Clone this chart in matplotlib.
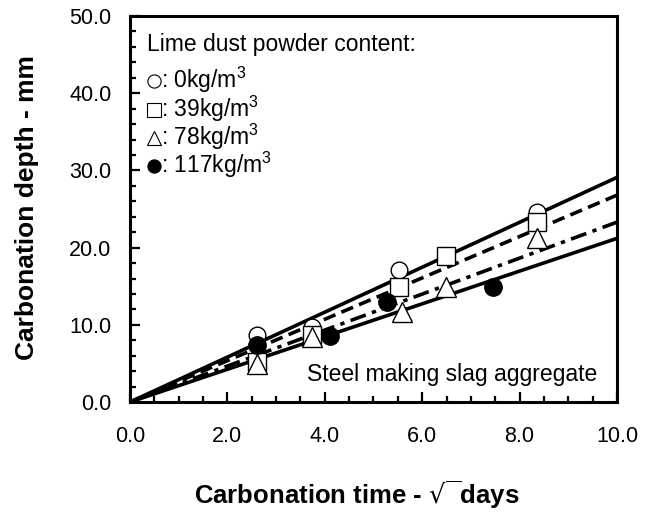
import matplotlib
matplotlib.use("Agg")
import matplotlib.pyplot as plt
from matplotlib.ticker import MultipleLocator, FormatStrFormatter
from matplotlib.transforms import offset_copy

plt.rcParams['font.family'] = ['Liberation Sans', 'DejaVu Sans']
plt.rcParams['mathtext.fontset'] = 'custom'
plt.rcParams['mathtext.rm'] = 'Liberation Sans'
plt.rcParams['mathtext.it'] = 'Liberation Sans:italic'
plt.rcParams['mathtext.bf'] = 'Liberation Sans:bold'

# data
x_c0 = [2.61, 3.74, 5.52, 8.36]
y_c0 = [8.7, 9.7, 17.1, 24.6]
x_c39 = [2.61, 3.74, 5.52, 6.49, 8.36]
y_c39 = [5.2, 8.7, 14.9, 18.9, 23.3]
x_c78 = [2.61, 3.74, 5.58, 6.49, 8.36]
y_c78 = [4.9, 8.4, 11.7, 14.9, 21.2]
x_c117 = [2.61, 4.11, 5.27, 7.45]
y_c117 = [7.4, 8.5, 13.0, 14.9]
fit_x = [0.0, 10.0]
slopes = [2.91, 2.68, 2.33, 2.12]
legend_labels = [": 0kg/m$^3$", ": 39kg/m$^3$", ": 78kg/m$^3$", ": 117kg/m$^3$"]
legend_markers = ['o', 's', '^', 'o']
legend_fills = ['white', 'white', 'white', 'black']

fig = plt.figure(figsize=(6.54, 5.12), dpi=100)
ax = fig.add_axes([0.1988, 0.2148, 0.7446, 0.7539])

styles = [dict(ls='-'), dict(ls=(0, (3.5, 1.8))), dict(ls=(0, (4.5, 1.8, 1.2, 1.8))), dict(ls='-')]
for s, st in zip(slopes, styles):
    ax.plot(fit_x, [s * v for v in fit_x], color='black', lw=2.6, zorder=2, **st)

ax.plot(x_c0, y_c0, 'o', ms=12, mfc='white', mec='black', mew=1.0, zorder=3)
ax.plot(x_c39, y_c39, 's', ms=13.5, mfc='white', mec='black', mew=1.0, zorder=4)
ax.plot(x_c78, y_c78, '^', ms=14, mfc='white', mec='black', mew=1.0, zorder=5)
ax.plot(x_c117, y_c117, 'o', ms=12.5, mfc='black', mec='black', mew=1.0, zorder=6)

ax.set_xlim(0, 10)
ax.set_ylim(0, 50)
ax.xaxis.set_major_locator(MultipleLocator(2))
ax.xaxis.set_minor_locator(MultipleLocator(0.5))
ax.yaxis.set_major_locator(MultipleLocator(10))
ax.yaxis.set_minor_locator(MultipleLocator(2))
ax.xaxis.set_major_formatter(FormatStrFormatter('%.1f'))
ax.yaxis.set_major_formatter(FormatStrFormatter('%.1f'))
ax.tick_params(which='both', direction='in', width=1.6, labelsize=15.5)
ax.tick_params(which='major', length=7)
ax.tick_params(which='minor', length=4)
ax.tick_params(axis='x', which='major', pad=17)
ax.tick_params(axis='y', which='major', pad=13.5)
for sp in ax.spines.values():
    sp.set_linewidth(2.2)

fig.text(27 / 654, 1 - 208 / 512, "Carbonation depth - mm", fontsize=19, fontweight='bold',
         rotation=90, ha='center', va='center')
fig.text(357 / 654, 1 - 495 / 512, "Carbonation time - $\\sqrt{\\ }$days", fontsize=18.5,
         fontweight='bold', ha='center', va='center', math_fontfamily='dejavusans')

ax.text(0.035, 0.909, "Lime dust powder content:", transform=ax.transAxes,
        fontsize=16.5, va='baseline', ha='left')
base_y = [0.8135, 0.738, 0.666, 0.593]
tr_sym = offset_copy(ax.transAxes, fig=fig, x=0, y=7, units='dots')
for mk, fc, lab, yy in zip(legend_markers, legend_fills, legend_labels, base_y):
    ax.plot([0.0483], [yy], mk, ms=9.5 if mk != '^' else 10.5, mfc=fc, mec='black', mew=0.8,
            transform=tr_sym, clip_on=False, zorder=7)
    ax.text(0.0637, yy, lab, transform=ax.transAxes, fontsize=16.5, va='baseline', ha='left')

ax.text(0.96, 0.055, "Steel making slag aggregate", transform=ax.transAxes,
        fontsize=16.5, va='baseline', ha='right')

fig.savefig("out.png", dpi=100)
